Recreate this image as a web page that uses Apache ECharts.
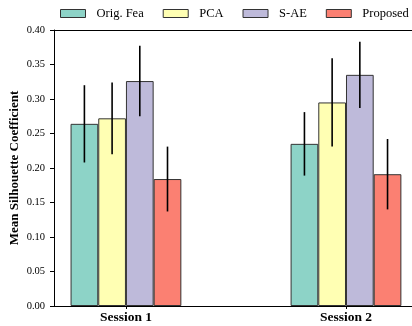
<!DOCTYPE html>
<html>
<head>
<meta charset="utf-8">
<script src="https://cdn.jsdelivr.net/npm/echarts@6/dist/echarts.min.js"></script>
<style>
html,body{margin:0;padding:0;background:#fff;}
#chart{width:412px;height:326px;}
</style>
</head>
<body>
<div id="chart"></div>
<script>
// ---- data ----
const categories = ['Session 1', 'Session 2'];
const categoryPos = [0, 1];
const methods = ['Orig. Fea', 'PCA', 'S-AE', 'Proposed'];
const origFea = [0.264, 0.235];
const pca = [0.272, 0.295];
const sae = [0.326, 0.335];
const proposed = [0.184, 0.191];
const origFeaErr = [0.056, 0.046];
const pcaErr = [0.052, 0.064];
const saeErr = [0.051, 0.048];
const proposedErr = [0.047, 0.051];

// ---- styling ----
const colors = ['#8dd3c7', '#ffffb3', '#bebada', '#fb8072'];
const FONT = '"Liberation Serif", "DejaVu Serif", serif';
const BAR_W = 27.7;
const X_MIN = -0.327;
const X_MAX = 1.300;

const means = [origFea, pca, sae, proposed];
const errs = [origFeaErr, pcaErr, saeErr, proposedErr];

const barSeries = methods.map((m, i) => ({
  name: m,
  type: 'bar',
  barWidth: BAR_W,
  barGap: '0%',
  data: categoryPos.map((x, j) => [x, means[i][j]]),
  itemStyle: { color: colors[i], borderColor: '#333', borderWidth: 1 },
  emphasis: { disabled: true },
  z: 2
}));

const errData = [];
methods.forEach((m, i) => {
  categoryPos.forEach((x, j) => {
    errData.push([x, means[i][j] - errs[i][j], means[i][j] + errs[i][j], i]);
  });
});

const errSeries = {
  type: 'custom',
  data: errData,
  encode: { x: 0, y: [1, 2] },
  z: 5,
  silent: true,
  renderItem: function (params, api) {
    const x = api.value(0);
    const lo = api.coord([x, api.value(1)]);
    const hi = api.coord([x, api.value(2)]);
    const off = (api.value(3) - 1.5) * BAR_W;
    return {
      type: 'line',
      shape: { x1: lo[0] + off, y1: lo[1], x2: hi[0] + off, y2: hi[1] },
      style: { stroke: '#000', lineWidth: 1.6 }
    };
  }
};

const chart = echarts.init(document.getElementById('chart'), null, { renderer: 'canvas' });
chart.setOption({
  animation: false,
  backgroundColor: '#fff',
  textStyle: { fontFamily: FONT },
  legend: {
    data: methods,
    left: 60,
    top: 7,
    padding: 0,
    width: 352,
    itemWidth: 25,
    itemHeight: 8,
    itemGap: 19,
    icon: 'rect',
    itemStyle: { borderColor: '#333', borderWidth: 1 },
    textStyle: { fontFamily: FONT, fontSize: 12.5, color: '#000', padding: [0, 0, 0, 6] }
  },
  grid: {
    left: 54, top: 30, bottom: 20, right: 0,
    show: false,
    containLabel: false,
    outerBoundsMode: 'none'
  },
  xAxis: [{
    type: 'value',
    min: X_MIN,
    max: X_MAX,
    splitLine: { show: false },
    axisLine: { show: true, onZero: false, lineStyle: { color: '#000', width: 1 } },
    axisTick: { show: true, customValues: categoryPos, length: 3, lineStyle: { color: '#000' } },
    axisLabel: {
      customValues: categoryPos,
      formatter: v => categories[Math.round(v)],
      fontFamily: FONT, fontSize: 13.5, fontWeight: 'bold', color: '#000', margin: 5
    }
  }, {
    type: 'value',
    position: 'top',
    min: X_MIN,
    max: X_MAX,
    splitLine: { show: false },
    axisLine: { show: true, onZero: false, lineStyle: { color: '#000', width: 1 } },
    axisTick: { show: false },
    axisLabel: { show: false }
  }],
  yAxis: {
    type: 'value',
    min: 0,
    max: 0.4,
    interval: 0.05,
    name: 'Mean Silhouette Coefficient',
    nameLocation: 'middle',
    nameGap: 33,
    nameMoveOverlap: false,
    nameTextStyle: { fontFamily: FONT, fontSize: 13, fontWeight: 'bold', color: '#000' },
    splitLine: { show: false },
    axisLine: { show: true, onZero: false, lineStyle: { color: '#000', width: 1 } },
    axisTick: { show: true, length: 4, lineStyle: { color: '#000' } },
    axisLabel: {
      formatter: v => v.toFixed(2),
      fontFamily: FONT, fontSize: 10.5, color: '#000', margin: 9
    }
  },
  series: barSeries.concat([errSeries])
});
</script>
</body>
</html>
